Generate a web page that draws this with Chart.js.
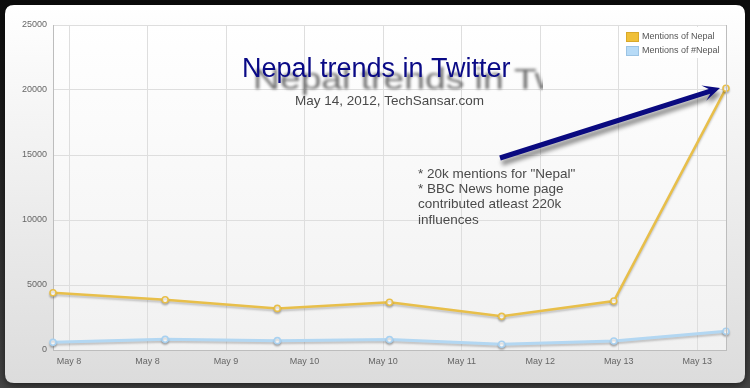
<!DOCTYPE html>
<html>
<head>
<meta charset="utf-8">
<script src="https://cdn.jsdelivr.net/npm/chart.js@4/dist/chart.umd.min.js"></script>
<style>
  html, body { margin: 0; padding: 0; background: #111; }
  canvas { display: block; }
</style>
</head>
<body>
<canvas id="myChart" width="750" height="388"></canvas>
<script>
// one point per day, May 8 .. May 14 2012
var categories = ["May 8", "May 9", "May 10", "May 11", "May 12", "May 13", "May 14"];
var nepalMentions = [4400, 3870, 3200, 3670, 2590, 3770, 20130];
var hashNepalMentions = [590, 820, 720, 800, 440, 690, 1440];
// x ticks (in days from May 8) and their labels
var tickDays = [0.143, 0.843, 1.543, 2.243, 2.943, 3.643, 4.343, 5.043, 5.743];
var tickLabels = ["May 8", "May 8", "May 9", "May 10", "May 10", "May 11", "May 12", "May 13", "May 13"];
var yTicks = [0, 5000, 10000, 15000, 20000, 25000];

var titleText = "Nepal trends in Twitter";
var subtitleText = "May 14, 2012, TechSansar.com";
var noteLines = ["* 20k mentions for \"Nepal\"", "* BBC News home page", "contributed atleast 220k", "influences"];

var FONT = "Arial, 'Liberation Sans', sans-serif";

function roundRect(ctx, x, y, w, h, r) {
    ctx.beginPath();
    ctx.moveTo(x + r, y);
    ctx.lineTo(x + w - r, y);
    ctx.quadraticCurveTo(x + w, y, x + w, y + r);
    ctx.lineTo(x + w, y + h - r);
    ctx.quadraticCurveTo(x + w, y + h, x + w - r, y + h);
    ctx.lineTo(x + r, y + h);
    ctx.quadraticCurveTo(x, y + h, x, y + h - r);
    ctx.lineTo(x, y + r);
    ctx.quadraticCurveTo(x, y, x + r, y);
    ctx.closePath();
}

var framePlugin = {
    id: "frame",
    beforeDraw: function (chart) {
        var ctx = chart.ctx, a = chart.chartArea;
        ctx.save();
        var bg = ctx.createLinearGradient(0, 0, 0, chart.height);
        bg.addColorStop(0, "#0b0b0b");
        bg.addColorStop(1, "#454545");
        ctx.fillStyle = bg;
        ctx.fillRect(0, 0, chart.width, chart.height);

        ctx.shadowColor = "rgba(0,0,0,0.6)";
        ctx.shadowBlur = 8;
        ctx.shadowOffsetY = 2;
        var pg = ctx.createLinearGradient(0, 5, 0, 383);
        pg.addColorStop(0, "#ffffff");
        pg.addColorStop(1, "#dcdcdc");
        ctx.fillStyle = pg;
        roundRect(ctx, 5, 5, 740, 378, 9);
        ctx.fill();
        ctx.restore();

        ctx.save();
        var ag = ctx.createLinearGradient(0, a.top, 0, a.bottom);
        ag.addColorStop(0, "#ffffff");
        ag.addColorStop(1, "#f1f1f1");
        ctx.fillStyle = ag;
        ctx.fillRect(a.left, a.top, a.right - a.left, a.bottom - a.top);
        ctx.restore();
    },
    beforeDatasetsDraw: function (chart) {
        var ctx = chart.ctx;
        ctx.save();
        ctx.shadowColor = "rgba(0,0,0,0.2)";
        ctx.shadowBlur = 2;
        ctx.shadowOffsetY = 2;
    },
    afterDatasetsDraw: function (chart) {
        chart.ctx.restore();
    },
    afterDraw: function (chart) {
        var ctx = chart.ctx, a = chart.chartArea;
        ctx.save();
        // right border of the plot
        ctx.strokeStyle = "#bdbdbd";
        ctx.lineWidth = 1;
        ctx.beginPath();
        ctx.moveTo(Math.round(a.right) + 0.5, a.top);
        ctx.lineTo(Math.round(a.right) + 0.5, a.bottom);
        ctx.stroke();

        // legend
        ctx.fillStyle = "#ffffff";
        ctx.fillRect(619, 27, 103, 31);
        chart.data.datasets.forEach(function (ds, i) {
            var y = 32 + i * 14;
            ctx.fillStyle = ds.legendFill;
            ctx.fillRect(626, y, 13, 10);
            ctx.strokeStyle = ds.legendEdge;
            ctx.strokeRect(626.5, y + 0.5, 12, 9);
            ctx.fillStyle = "#555";
            ctx.font = "9px " + FONT;
            ctx.textAlign = "left";
            ctx.textBaseline = "middle";
            ctx.fillText(ds.label, 642, y + 5);
        });

        // title shadow (stretched, blurred, cut off on the right)
        ctx.save();
        ctx.beginPath();
        ctx.rect(0, 0, 543, chart.height);
        ctx.clip();
        ctx.filter = "blur(1.8px)";
        ctx.fillStyle = "rgba(75,75,75,0.8)";
        ctx.font = "27px " + FONT;
        ctx.textAlign = "left";
        ctx.textBaseline = "alphabetic";
        ctx.translate(253, 89);
        ctx.scale(1.38, 1.08);
        ctx.fillText(titleText, 0, 0);
        ctx.restore();

        // title
        ctx.fillStyle = "#0a0a86";
        ctx.font = "27px " + FONT;
        ctx.textAlign = "left";
        ctx.textBaseline = "alphabetic";
        ctx.fillText(titleText, 242, 77);

        ctx.fillStyle = "#4a4a4a";
        ctx.font = "13.5px " + FONT;
        ctx.textAlign = "center";
        ctx.fillText(subtitleText, 389.5, 105);

        ctx.textAlign = "left";
        var bl = [177.5, 193, 208, 223.5];
        noteLines.forEach(function (t, i) {
            ctx.fillText(t, 418, bl[i]);
        });

        // arrow
        var sx = 500, sy = 158, tx = 720, ty = 88;
        var len = Math.hypot(tx - sx, ty - sy);
        var ux = (tx - sx) / len, uy = (ty - sy) / len;
        var nx = -uy, ny = ux;
        ctx.shadowColor = "rgba(0,0,0,0.45)";
        ctx.shadowBlur = 4;
        ctx.shadowOffsetX = 2;
        ctx.shadowOffsetY = 5;
        ctx.fillStyle = "#0a0a80";
        ctx.beginPath();
        var bx = tx - 17 * ux, by = ty - 17 * uy;
        var mx = tx - 11 * ux, my = ty - 11 * uy;
        ctx.moveTo(sx - 2.5 * nx, sy - 2.5 * ny);
        ctx.lineTo(mx - 2.5 * nx, my - 2.5 * ny);
        ctx.lineTo(bx - 8 * nx, by - 8 * ny);
        ctx.lineTo(tx, ty);
        ctx.lineTo(bx + 8 * nx, by + 8 * ny);
        ctx.lineTo(mx + 2.5 * nx, my + 2.5 * ny);
        ctx.lineTo(sx + 2.5 * nx, sy + 2.5 * ny);
        ctx.closePath();
        ctx.fill();
        ctx.restore();
    }
};

var myChart = document.getElementById("myChart").getContext("2d");
var lineChart = new Chart(myChart, {
    type: "line",
    data: {
        datasets: [{
            label: "Mentions of Nepal",
            data: categories.map(function (c, i) { return { x: i, y: nepalMentions[i] }; }),
            borderColor: "#e8bf4a",
            borderWidth: 2.5,
            pointRadius: 3,
            pointBackgroundColor: "#ffffff",
            pointBorderColor: "#e8bf4a",
            pointBorderWidth: 1.6,
            legendFill: "#f0c038",
            legendEdge: "#d9a92a",
            tension: 0,
            clip: false
        }, {
            label: "Mentions of #Nepal",
            data: categories.map(function (c, i) { return { x: i, y: hashNepalMentions[i] }; }),
            borderColor: "#b3d7f2",
            borderWidth: 3,
            pointRadius: 3,
            pointBackgroundColor: "#ffffff",
            pointBorderColor: "#a9d1f0",
            pointBorderWidth: 1.6,
            legendFill: "#b7dbf7",
            legendEdge: "#9cc4e4",
            tension: 0,
            clip: false
        }]
    },
    options: {
        responsive: false,
        animation: false,
        layout: { padding: { top: 25, right: 24, left: 0, bottom: 0 } },
        plugins: {
            legend: { display: false },
            tooltip: { enabled: false }
        },
        scales: {
            x: {
                type: "linear",
                min: 0,
                max: categories.length - 1,
                afterBuildTicks: function (s) {
                    s.ticks = tickDays.map(function (v) { return { value: v }; });
                },
                afterFit: function (s) { s.height = 38; },
                ticks: {
                    autoSkip: false,
                    maxRotation: 0,
                    padding: 6,
                    color: "#666",
                    font: { size: 9, family: FONT },
                    callback: function (v, i) { return tickLabels[i]; }
                },
                grid: { color: "#dedede", drawTicks: false },
                border: { color: "#bdbdbd" }
            },
            y: {
                min: yTicks[0],
                max: yTicks[yTicks.length - 1],
                afterBuildTicks: function (s) {
                    s.ticks = yTicks.map(function (v) { return { value: v }; });
                },
                afterFit: function (s) { s.width = 53; },
                ticks: {
                    padding: 6,
                    color: "#666",
                    font: { size: 9, family: FONT },
                    callback: function (v) { return String(v); }
                },
                grid: { color: "#dedede", drawTicks: false },
                border: { color: "#bdbdbd" }
            }
        }
    },
    plugins: [framePlugin]
});
</script>
</body>
</html>
